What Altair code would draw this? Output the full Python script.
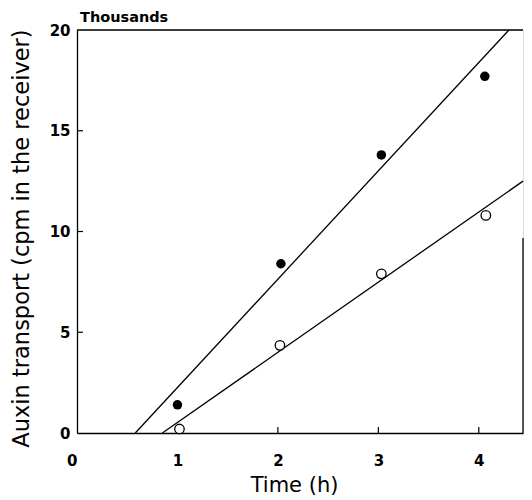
import altair as alt
import pandas as pd

# Data
time_filled = [1.0, 2.03, 3.03, 4.06]
auxin_filled = [1.4, 8.4, 13.8, 17.7]
time_open = [1.02, 2.02, 3.03, 4.07]
auxin_open = [0.2, 4.35, 7.9, 10.8]

fit_filled_x = [0.58, 4.3]
fit_filled_y = [0.0, 20.0]
fit_open_x = [0.85, 4.44]
fit_open_y = [0.0, 12.5]

x_ticks = [0, 1, 2, 3, 4]
y_ticks = [0, 5, 10, 15, 20]
x_inner_ticks = [1, 2, 3, 4]
y_inner_ticks = [5, 10, 15]

W, H = 446, 403
FONT = "DejaVu Sans"

pts = pd.DataFrame({
    "t": time_filled + time_open,
    "v": auxin_filled + auxin_open,
    "s": ["filled"] * 4 + ["open"] * 4,
})
fits = pd.DataFrame({
    "t": fit_filled_x + fit_open_x,
    "v": fit_filled_y + fit_open_y,
    "s": ["filled", "filled", "open", "open"],
})

xs = alt.Scale(domain=[0, 4.44], nice=False)
ys = alt.Scale(domain=[0, 20], nice=False)

x_axis = alt.Axis(values=x_ticks, format="d", title="Time (h)", ticks=False, grid=False,
                  domainColor="black", domainWidth=1.3, labelPadding=20,
                  labelAlign={"condition": {"test": "datum.value === 0", "value": "right"},
                              "value": "center"},
                  labelFontSize=15, labelFontWeight="bold", labelColor="black",
                  titleFontSize=21, titleFontWeight="normal", titleColor="black",
                  titlePadding=6, titleX=217, labelFont=FONT, titleFont=FONT)
y_axis = alt.Axis(values=y_ticks, format="d", title="Auxin transport (cpm in the receiver)",
                  ticks=False, grid=False, domainColor="black", domainWidth=1.3,
                  labelPadding=7, labelFontSize=15, labelFontWeight="bold",
                  labelColor="black", titleFontSize=22.5, titleFontWeight="normal",
                  titleColor="black", titlePadding=16, titleY=208,
                  labelFont=FONT, titleFont=FONT)

base_x = alt.X("t:Q", scale=xs, axis=x_axis)
base_y = alt.Y("v:Q", scale=ys, axis=y_axis)

lines = alt.Chart(fits).mark_line(color="black", strokeWidth=1.3).encode(
    x=base_x, y=base_y, detail="s:N")

filled = alt.Chart(pts).transform_filter(alt.datum.s == "filled").mark_point(
    shape="circle", filled=True, color="black", size=90, opacity=1).encode(
    x="t:Q", y="v:Q")

open_ = alt.Chart(pts).transform_filter(alt.datum.s == "open").mark_point(
    shape="circle", filled=True, fill="white", stroke="black", strokeWidth=1.3,
    size=90, opacity=1).encode(x="t:Q", y="v:Q")

xt = alt.Chart(pd.DataFrame({"t": x_inner_ticks})).mark_rule(
    color="black", strokeWidth=1.2).encode(
    x="t:Q", y=alt.value(H), y2=alt.value(H - 6))
yt = alt.Chart(pd.DataFrame({"v": y_inner_ticks})).mark_rule(
    color="black", strokeWidth=1.2).encode(
    y="v:Q", x=alt.value(0), x2=alt.value(6))

top_border = alt.Chart(pd.DataFrame({"a": [0]})).mark_rule(
    color="black", strokeWidth=1.3).encode(
    x=alt.value(0), x2=alt.value(W), y=alt.value(0))
right_border = alt.Chart(pd.DataFrame({"a": [0]})).mark_rule(
    color="black", strokeWidth=1.3).encode(
    x=alt.value(W), y=alt.value(208), y2=alt.value(H))

label = alt.Chart(pd.DataFrame({"txt": ["Thousands"]})).mark_text(
    align="left", baseline="alphabetic", font=FONT, fontSize=14.5, fontWeight="bold",
    color="black").encode(x=alt.value(3), y=alt.value(-8.5), text="txt:N")

chart = alt.layer(lines, xt, yt, top_border, right_border, filled, open_, label).properties(
    width=W, height=H,
    autosize=alt.AutoSizeParams(type="none"),
    padding={"left": 69, "top": 22, "right": 1, "bottom": 62},
).configure_view(stroke=None).configure(background="white")

chart.save("out.html", embed_options={"renderer": "svg", "actions": False})
